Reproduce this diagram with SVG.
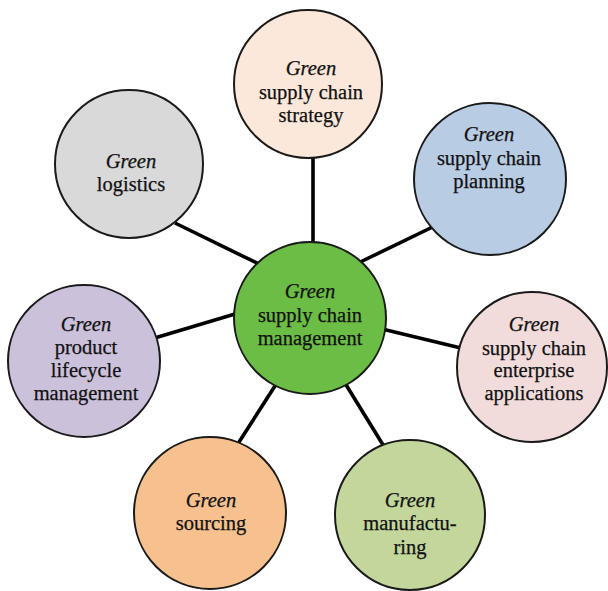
<svg xmlns="http://www.w3.org/2000/svg" width="608" height="591" viewBox="0 0 608 591">
  <style>
    .node { stroke: #1a1a1a; stroke-width: 2; }
    .label { font-family: "Liberation Serif", "Times New Roman", serif; font-size: 20.5px; fill: #111; text-anchor: middle; stroke: #111; stroke-width: 0.25; }
    .em { font-style: italic; }
    .link { stroke: #000; stroke-width: 3.6; stroke-linecap: butt; }
  </style>
  <rect width="608" height="591" fill="#ffffff"/>

  <!-- spokes from the hub to each outer node -->
  <g id="connectors">
    <line class="link" x1="313" y1="150" x2="313" y2="250"/>
    <line class="link" x1="350" y1="267" x2="445" y2="221"/>
    <line class="link" x1="175" y1="223" x2="265" y2="267"/>
    <line class="link" x1="148" y1="340" x2="245" y2="311"/>
    <line class="link" x1="378" y1="328" x2="465" y2="349"/>
    <line class="link" x1="282" y1="375" x2="232" y2="453"/>
    <line class="link" x1="340" y1="375" x2="388" y2="453"/>
  </g>

  <g id="node-strategy">
    <circle class="node" cx="308" cy="84" r="74" fill="#fce8da"/>
    <text class="label"><tspan class="em" x="311" y="75">Green</tspan><tspan x="311" y="99">supply chain</tspan><tspan x="311" y="122">strategy</tspan></text>
  </g>

  <g id="node-planning">
    <circle class="node" cx="490" cy="179" r="76" fill="#b8cce4"/>
    <text class="label"><tspan class="em" x="489" y="141">Green</tspan><tspan x="489" y="165">supply chain</tspan><tspan x="489" y="188">planning</tspan></text>
  </g>

  <g id="node-logistics">
    <circle class="node" cx="129" cy="164" r="74" fill="#d9d9d9"/>
    <text class="label"><tspan class="em" x="131" y="168">Green</tspan><tspan x="131" y="191">logistics</tspan></text>
  </g>

  <g id="node-hub">
    <circle class="node" cx="310" cy="318" r="76" fill="#6cbd45"/>
    <text class="label"><tspan class="em" x="310" y="298">Green</tspan><tspan x="310" y="322">supply chain</tspan><tspan x="310" y="345">management</tspan></text>
  </g>

  <g id="node-plm">
    <circle class="node" cx="84" cy="361" r="76" fill="#ccc1da"/>
    <text class="label"><tspan class="em" x="86" y="331">Green</tspan><tspan x="86" y="354">product</tspan><tspan x="86" y="377">lifecycle</tspan><tspan x="86" y="400">management</tspan></text>
  </g>

  <g id="node-enterprise">
    <circle class="node" cx="532" cy="367" r="75" fill="#f2dcdb"/>
    <text class="label"><tspan class="em" x="534" y="331">Green</tspan><tspan x="534" y="355">supply chain</tspan><tspan x="534" y="377">enterprise</tspan><tspan x="534" y="400">applications</tspan></text>
  </g>

  <g id="node-sourcing">
    <circle class="node" cx="210" cy="513" r="76" fill="#f7c08f"/>
    <text class="label"><tspan class="em" x="211" y="507">Green</tspan><tspan x="211" y="530">sourcing</tspan></text>
  </g>

  <g id="node-manufacturing">
    <circle class="node" cx="410" cy="515" r="75" fill="#c3d69b"/>
    <text class="label"><tspan class="em" x="410" y="507">Green</tspan><tspan x="410" y="530">manufactu-</tspan><tspan x="410" y="554">ring</tspan></text>
  </g>
</svg>
